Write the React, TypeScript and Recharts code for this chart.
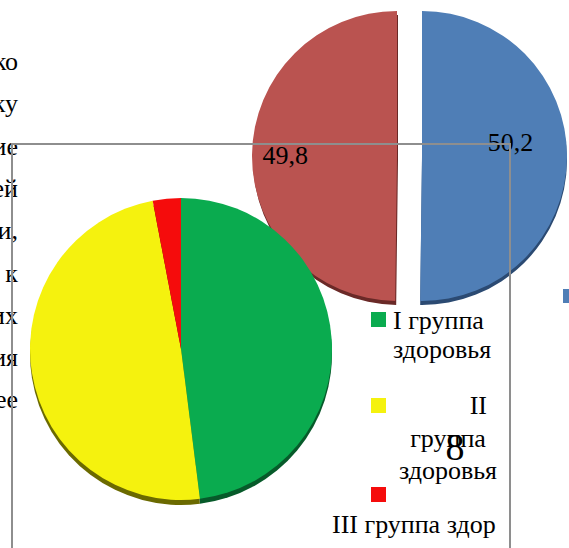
import React from "react";
import { PieChart, Pie, Cell } from "recharts";

// ---- data ----
const BACK_CATEGORIES = ["Мальчики", "Девочки"];
const BACK_VALUES = [50.2, 49.8];
const FRONT_CATEGORIES = ["I группа здоровья", "II группа здоровья", "III группа здоровья"];
const FRONT_VALUES = [48, 49, 3];
const LEFT_TEXT = ["ко", "ку", "ие", "ей", "и,", "к", "их", "ия", "ее"];
const LEGEND_LINES = [["I группа", "здоровья"], ["II", "группа", "здоровья"], ["III группа здор"]];

// ---- styles ----
const BACK_COLORS = ["#4F7EB6", "#BA5350"];
const BACK_SHADOW = ["#2B4A72", "#6A2927"];
const FRONT_COLORS = ["#0AAB4F", "#F5F20E", "#F50C0C"];
const FRONT_SHADOW = ["#075A2A", "#6B6A00", "#6E0505"];
const LABEL_STYLE = [
  { k: 0.61, dy: -6 },
  { k: 0.77, dy: 9 },
];
const FONT = "Liberation Serif, DejaVu Serif, serif";
const W = 569;
const H = 548;
const M = { top: 0, right: 0, bottom: 0, left: 0 };

const backData = BACK_CATEGORIES.map((name, i) => ({ name, value: BACK_VALUES[i] }));
const frontData = FRONT_CATEGORIES.map((name, i) => ({ name, value: FRONT_VALUES[i] }));

const fmt = (v: number) => String(v).replace(".", ",");

const txt: React.CSSProperties = { fontFamily: FONT, fontSize: 26 };

const makeLabel = (only: number) => (p: any) => {
  if (p.index !== only) return null;
  const RAD = Math.PI / 180;
  const s = LABEL_STYLE[p.index];
  const r = p.outerRadius * s.k;
  const x = p.cx + r * Math.cos(-p.midAngle * RAD);
  const y = p.cy + r * Math.sin(-p.midAngle * RAD) + s.dy;
  return (
    <text x={x} y={y} textAnchor="middle" style={txt} fill="#000">
      {fmt(p.value)}
    </text>
  );
};

const layer: React.CSSProperties = { position: "absolute", left: 0, top: 0, width: W, height: H };

export default function App() {
  const R1 = 145;
  const R2 = 151;
  return (
    <div style={{ position: "fixed", left: 0, top: 0, width: W, height: H, overflow: "hidden", background: "#fff" }}>
      {/* back exploded pie */}
      <div style={layer}>
        <PieChart width={W} height={H} margin={M}>
          {[0, 1].map((k) => (
            <Pie
              key={"bs" + k}
              data={backData}
              dataKey="value"
              cx={k === 0 ? 422 : 398}
              cy={160}
              outerRadius={R1}
              startAngle={90}
              endAngle={-270}
              stroke="none"
              isAnimationActive={false}
            >
              {backData.map((_, i) => (
                <Cell key={i} fill={i === k ? BACK_SHADOW[i] : "none"} />
              ))}
            </Pie>
          ))}
          {[0, 1].map((k) => (
            <Pie
              key={"b" + k}
              data={backData}
              dataKey="value"
              cx={k === 0 ? 422 : 397}
              cy={156}
              outerRadius={R1}
              startAngle={90}
              endAngle={-270}
              stroke="none"
              isAnimationActive={false}
              labelLine={false}
              label={makeLabel(k)}
            >
              {backData.map((_, i) => (
                <Cell key={i} fill={i === k ? BACK_COLORS[i] : "none"} />
              ))}
            </Pie>
          ))}
        </PieChart>
      </div>

      {/* frame lines & clipped paragraph text */}
      <svg style={layer} width={W} height={H}>
        {LEFT_TEXT.map((t, i) => (
          <text key={i} x={18} y={70 + i * 42.3} textAnchor="end" style={txt} fill="#000">
            {t}
          </text>
        ))}
        <g stroke="#8E8E8E" strokeWidth={2} fill="none">
          <line x1={12} y1={144} x2={510} y2={144} />
          <line x1={12} y1={143} x2={12} y2={H} />
          <line x1={510} y1={143} x2={510} y2={H} />
        </g>
      </svg>

      {/* front pie */}
      <div style={layer}>
        <PieChart width={W} height={H} margin={M}>
          <Pie
            data={frontData}
            dataKey="value"
            cx={181}
            cy={354}
            outerRadius={R2}
            startAngle={90}
            endAngle={-270}
            stroke="none"
            isAnimationActive={false}
          >
            {frontData.map((_, i) => (
              <Cell key={i} fill={FRONT_SHADOW[i]} />
            ))}
          </Pie>
          <Pie
            data={frontData}
            dataKey="value"
            cx={181}
            cy={349}
            outerRadius={R2}
            startAngle={90}
            endAngle={-270}
            stroke="none"
            isAnimationActive={false}
          >
            {frontData.map((_, i) => (
              <Cell key={i} fill={FRONT_COLORS[i]} />
            ))}
          </Pie>
        </PieChart>
      </div>

      {/* legend overlay */}
      <svg style={layer} width={W} height={H} fill="#000">
        <rect x={371} y={312} width={15} height={15} fill={FRONT_COLORS[0]} />
        <text x={393} y={329} style={txt}>{LEGEND_LINES[0][0]}</text>
        <text x={393} y={358} style={txt}>{LEGEND_LINES[0][1]}</text>

        <rect x={371} y={398} width={15} height={15} fill={FRONT_COLORS[1]} />
        <text x={487} y={414} textAnchor="end" style={txt}>{LEGEND_LINES[1][0]}</text>
        <text x={448} y={447} textAnchor="middle" style={txt}>{LEGEND_LINES[1][1]}</text>
        <text x={448} y={479} textAnchor="middle" style={txt}>{LEGEND_LINES[1][2]}</text>

        <rect x={371} y={487} width={15} height={15} fill={FRONT_COLORS[2]} />
        <text x={332} y={533} style={txt}>{LEGEND_LINES[2][0]}</text>

        <text x={455} y={460} textAnchor="middle" style={{ fontFamily: FONT, fontSize: 38 }}>8</text>

        <rect x={563} y={289} width={15} height={14} fill={BACK_COLORS[0]} />
      </svg>
    </div>
  );
}
